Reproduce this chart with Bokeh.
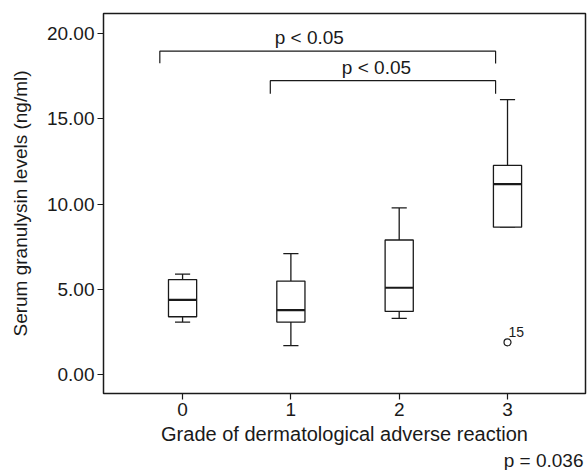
from bokeh.plotting import figure
from bokeh.models import Range1d, FixedTicker, NumeralTickFormatter, Label, Title
from bokeh.embed import file_html
from bokeh.resources import INLINE

grades = [0, 1, 2, 3]
grade_labels = ["0", "1", "2", "3"]
whisker_low = [3.08, 1.70, 3.29, 8.64]
q1 = [3.39, 3.08, 3.70, 8.64]
median = [4.38, 3.78, 5.09, 11.17]
q3 = [5.57, 5.48, 7.89, 12.26]
whisker_high = [5.89, 7.09, 9.77, 16.12]
outlier_grade = [3]
outlier_value = [1.89]
outlier_label = ["15"]
y_ticks = [0, 5, 10, 15, 20]

# significance brackets: (left x, right x, bar y, left foot y, right foot y)
brackets = [(-0.21, 2.89, 18.96, 18.26, 18.24), (0.81, 2.89, 17.23, 16.47, 16.47)]
bracket_text = ["p < 0.05", "p < 0.05"]
bracket_text_x = [1.17, 1.79]
overall_p = "p = 0.036"

FONT = "Liberation Sans"
INK = "#1a1a1a"

p = figure(width=588, height=470, output_backend="svg", toolbar_location=None,
           x_range=Range1d(-0.73, 3.72), y_range=Range1d(-1.11, 21.17),
           min_border_left=103, min_border_top=13, min_border_right=3, min_border_bottom=0)
p.background_fill_color = "white"
p.border_fill_color = "white"
p.outline_line_color = INK
p.outline_line_width = 1.5
p.xgrid.visible = False
p.ygrid.visible = False

for ax in (p.xaxis[0], p.yaxis[0]):
    ax.axis_line_color = None
    ax.major_tick_line_color = INK
    ax.major_tick_line_width = 1.2
    ax.major_tick_in = 0
    ax.major_tick_out = 6
    ax.minor_tick_line_color = None
    ax.major_label_text_font = FONT
    ax.major_label_text_font_size = "19px"
    ax.major_label_text_color = INK
    ax.axis_label_text_font = FONT
    ax.axis_label_text_font_size = "19px"
    ax.axis_label_text_font_style = "normal"
    ax.axis_label_text_color = INK

p.xaxis.ticker = FixedTicker(ticks=grades)
p.xaxis.major_label_overrides = {g: l for g, l in zip(grades, grade_labels)}
p.xaxis.axis_label = "Grade of dermatological adverse reaction"
p.xaxis.axis_label_text_font_size = "20px"
p.xaxis.axis_label_standoff = 4
p.xaxis.major_label_standoff = 3
p.yaxis.ticker = FixedTicker(ticks=y_ticks)
p.yaxis.formatter = NumeralTickFormatter(format="0.00")
p.yaxis.axis_label = "Serum granulysin levels (ng/ml)"
p.yaxis.axis_label_standoff = 13
p.yaxis.major_label_standoff = 3

p.add_layout(Title(text=overall_p, align="right", text_font=FONT, text_font_size="19px",
                   text_font_style="normal", text_color=INK, standoff=0, offset=2), "below")

hw = 0.13
cw = 0.07
# whiskers
p.segment(x0=grades, y0=q3, x1=grades, y1=whisker_high, line_color=INK, line_width=1.3)
p.segment(x0=grades, y0=whisker_low, x1=grades, y1=q1, line_color=INK, line_width=1.3)
# caps
p.segment(x0=[g - cw for g in grades], y0=whisker_high, x1=[g + cw for g in grades], y1=whisker_high,
          line_color=INK, line_width=1.3)
p.segment(x0=[g - cw for g in grades], y0=whisker_low, x1=[g + cw for g in grades], y1=whisker_low,
          line_color=INK, line_width=1.3)
# boxes
p.quad(left=[g - hw for g in grades], right=[g + hw for g in grades], bottom=q1, top=q3,
       fill_color="white", line_color=INK, line_width=1.3)
# medians
p.segment(x0=[g - hw for g in grades], y0=median, x1=[g + hw for g in grades], y1=median,
          line_color=INK, line_width=2.2)

# outlier
p.scatter(x=outlier_grade, y=outlier_value, marker="circle", size=7,
          fill_color="white", line_color=INK, line_width=1.2)
for g, v, t in zip(outlier_grade, outlier_value, outlier_label):
    p.add_layout(Label(x=g, y=v, text=t, x_offset=1, y_offset=5, text_font=FONT,
                       text_font_size="14px", text_color=INK))

# brackets
for (xl, xr, yb, fl, fr), t, tx in zip(brackets, bracket_text, bracket_text_x):
    p.line(x=[xl, xl, xr, xr], y=[fl, yb, yb, fr], line_color=INK, line_width=1.2)
    p.add_layout(Label(x=tx, y=yb, text=t, text_align="center", y_offset=3,
                       text_font=FONT, text_font_size="19px", text_color=INK))

open("out.html", "w").write(file_html(p, INLINE))
